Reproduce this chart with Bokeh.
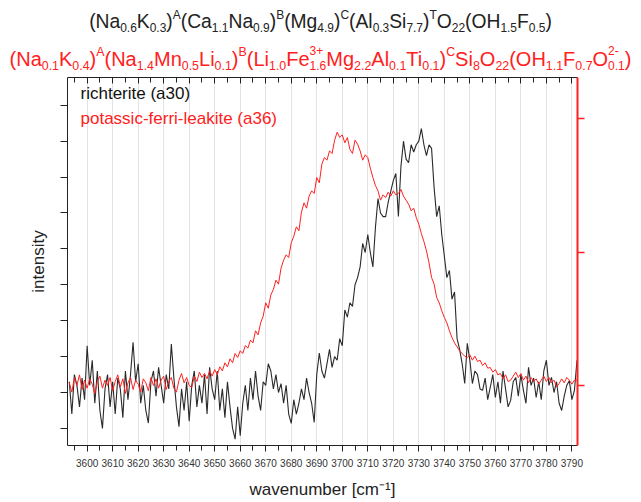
from bokeh.plotting import figure
from bokeh.models import (LinearAxis, Range1d, FixedTicker, Label, Div,
                          CustomJSTickFormatter)
from bokeh.layouts import column
from bokeh.embed import file_html
from bokeh.resources import INLINE

# ---------------- data ----------------
wavenumber = list(range(3593, 3793))

richterite_a30 = [
    0.3, -0.6, 0.5, 0.2, -0.4, 0.4, -0.2, 1.3, 0.2, 0.9,
    -0.3, 0.6, -0.5, -1.0, 0.1, 0.5, -0.4, 0.3, -0.6, 0.4,
    0.1, -0.7, 0.6, -0.2, 0.5, 1.4, 0.3, 0.8, -0.3, 0.2,
    -0.5, -0.85, 0.3, 0.6, -0.1, 0.7, 0.2, -0.3, 0.5, 0.1,
    1.35, 0.4, -0.4, -0.95, 0.1, -0.5, 0.3, -0.8, 0.2, 0.6,
    -0.4, 0.2, -0.3, 0.5, -0.6, 0.7, 0.1, -0.2, 0.6, -0.5,
    0.1, -0.7, 0.3, -0.4, -1.0, -1.3, -0.4, -1.2, -0.3, 0.2,
    -0.5, 0.4, -0.2, 0.6, -0.1, -0.5, 0.3, 0.2, 0.8, 0.6,
    0.1, 0.5, 0.0, 0.25, -0.3, 0.2, -0.6, -0.86, -0.2, -0.6,
    -0.3, 0.1, -0.2, 0.4, 0.0, -0.3, -0.83, 0.5, 1.1, 0.6,
    0.4, 0.8, 1.2, 0.7, 1.0, 0.9, 1.5, 1.3, 2.3, 2.1,
    2.5, 2.4, 3.0, 3.2, 3.5, 4.15, 3.9, 4.4, 3.9, 3.5,
    4.6, 5.4, 5.0, 4.9, 4.9, 5.3, 5.6, 5.9, 6.1, 4.9,
    6.3, 7.0, 6.5, 6.4, 6.9, 6.7, 6.9, 7.0, 7.35, 6.9,
    6.6, 6.9, 6.8, 5.7, 4.9, 5.2, 4.4, 3.8, 3.2, 3.4,
    2.6, 2.8, 1.5, 1.2, 0.8, 0.25, 1.37, 0.9, 0.25, 0.6,
    0.5, 0.1, 0.06, 0.4, -0.2, 0.14, 0.5, -0.14, 0.3, -0.3,
    0.6, 0.1, -0.4, -0.22, 0.3, 0.42, -0.1, 0.5, 0.06, -0.3,
    0.7, 0.2, 0.4, -0.14, 0.3, -0.2, 0.6, 0.9, 0.2, 0.42,
    0.0, 0.3, -0.3, -0.5, -0.1, 0.2, 0.33, -0.2, 0.06, 0.9,
]

potassic_ferri_leakite_a36 = [
    0.02, -0.05, 0.06, 0.0, 0.08, -0.03, 0.04, -0.02, 0.05, 0.01,
    -0.06, 0.03, 0.07, -0.02, 0.04, 0.0, 0.06, -0.04, 0.03, 0.08,
    -0.01, 0.05, -0.06, 0.02, 0.06, -0.03, 0.04, 0.01, -0.05, 0.05,
    0.02, -0.04, 0.06, 0.0, 0.05, -0.02, 0.04, 0.07, -0.03, 0.03,
    0.06, -0.02, -0.05, 0.04, 0.09, 0.02, 0.06, 0.0, -0.015, 0.07,
    0.03, 0.1, 0.06, 0.09, 0.05, 0.11, 0.07, 0.12, 0.08, 0.14,
    0.11, 0.17, 0.14, 0.2, 0.17, 0.24, 0.21, 0.26, 0.24, 0.3,
    0.28, 0.34, 0.32, 0.41, 0.38, 0.47, 0.52, 0.62, 0.58, 0.68,
    0.72, 0.79, 0.76, 0.88, 0.94, 0.98, 0.96, 1.07, 1.12, 1.19,
    1.16, 1.3, 1.37, 1.33, 1.42, 1.46, 1.44, 1.56, 1.52, 1.66,
    1.71, 1.69, 1.76, 1.74, 1.84, 1.9, 1.86, 1.88, 1.82, 1.86,
    1.77, 1.74, 1.84, 1.81, 1.76, 1.69, 1.73, 1.71, 1.63, 1.56,
    1.5, 1.46, 1.39, 1.43, 1.41, 1.45, 1.42, 1.46, 1.43, 1.44,
    1.47, 1.42, 1.39, 1.36, 1.31, 1.33, 1.26, 1.21, 1.14, 1.08,
    1.01, 0.92, 0.81, 0.76, 0.66, 0.62, 0.56, 0.51, 0.47, 0.41,
    0.36, 0.32, 0.29, 0.26, 0.24, 0.22, 0.21, 0.23, 0.19, 0.22,
    0.18, 0.19, 0.15, 0.17, 0.13, 0.135, 0.1, 0.12, 0.08, 0.09,
    0.05, 0.08, 0.03, 0.04, 0.07, 0.1, 0.06, 0.09, 0.04, 0.07,
    0.02, 0.06, 0.03, 0.05, 0.01, 0.04, 0.07, 0.03, 0.06, 0.02,
    0.04, -0.01, 0.015, 0.05, 0.02, 0.06, 0.04, 0.01, 0.04, 0.04,
]

x_major_ticks = list(range(3600, 3791, 10))
x_minor_ticks = list(range(3595, 3792, 10))
left_ticks = list(range(-1, 9))
right_ticks = [0, 1, 2]

legend_black = "richterite (a30)"
legend_red = "potassic-ferri-leakite (a36)"

FONT = "Liberation Sans"
RED = "#ff2020"

# ---------------- figure ----------------
p = figure(width=603, height=430, output_backend="svg", toolbar_location=None,
           x_range=Range1d(3592.3, 3792.2), y_range=Range1d(-1.476, 8.774),
           min_border_left=67, min_border_right=26, min_border_top=5,
           min_border_bottom=57, background_fill_color="white",
           border_fill_color="white")
p.outline_line_color = None
p.extra_y_ranges = {"right": Range1d(-0.45, 2.31)}

blank = CustomJSTickFormatter(code="return ''")

# bottom axis
xa = p.xaxis[0]
xa.ticker = FixedTicker(ticks=x_major_ticks, minor_ticks=x_minor_ticks)
xa.axis_label = "wavenumber [cm⁻¹]"
xa.axis_label_text_font = FONT
xa.axis_label_text_font_size = "17px"
xa.axis_label_text_font_style = "normal"
xa.axis_label_text_color = "#222222"
xa.axis_label_standoff = 10
xa.major_label_text_font = FONT
xa.major_label_text_font_size = "10px"
xa.major_label_text_color = "#333333"
xa.major_label_standoff = 7
xa.major_tick_in = 0
xa.major_tick_out = 6
xa.minor_tick_in = 0
xa.minor_tick_out = 5
xa.axis_line_color = "#222222"
xa.major_tick_line_color = "#222222"
xa.minor_tick_line_color = "#222222"

# left axis
ya = p.yaxis[0]
ya.ticker = FixedTicker(ticks=left_ticks, minor_ticks=[])
ya.formatter = blank
ya.axis_label = "intensity"
ya.axis_label_text_font = FONT
ya.axis_label_text_font_size = "17px"
ya.axis_label_text_font_style = "normal"
ya.axis_label_text_color = "#222222"
ya.axis_label_standoff = 13
ya.major_tick_in = 0
ya.major_tick_out = 7
ya.axis_line_color = "#222222"
ya.major_tick_line_color = "#222222"

# top axis (ticks inward, no labels)
ta = LinearAxis(ticker=FixedTicker(ticks=x_major_ticks, minor_ticks=x_minor_ticks),
                formatter=blank, major_tick_in=6, major_tick_out=0,
                minor_tick_in=5, minor_tick_out=0,
                axis_line_color="#222222", major_tick_line_color="#222222",
                minor_tick_line_color="#222222", major_label_text_font_size="1px",
                major_label_standoff=0)
p.add_layout(ta, "above")

# right red axis
ra = LinearAxis(y_range_name="right", ticker=FixedTicker(ticks=right_ticks, minor_ticks=[]),
                formatter=blank, major_tick_in=0, major_tick_out=7,
                axis_line_color=RED, axis_line_width=2,
                major_tick_line_color=RED, major_tick_line_width=1.5,
                major_label_text_font_size="1px", major_label_standoff=0)
p.add_layout(ra, "right")

# grid
p.xgrid.ticker = FixedTicker(ticks=x_major_ticks)
p.xgrid.grid_line_color = "#e3e3e3"
p.xgrid.grid_line_width = 1
p.ygrid.visible = False

# data
p.line(wavenumber, richterite_a30, line_color="#2a2a2a", line_width=1.1)
p.line(wavenumber, potassic_ferri_leakite_a36, line_color=RED, line_width=1.0,
       y_range_name="right")

# legend texts
p.add_layout(Label(x=3597.4, y=8.32, text=legend_black, text_font=FONT,
                   text_font_size="17px", text_color="#111111",
                   text_baseline="alphabetic"))
p.add_layout(Label(x=3597.4, y=7.63, text=legend_red, text_font=FONT,
                   text_font_size="17px", text_color=RED,
                   text_baseline="alphabetic"))

# ---------------- titles ----------------
title_html = """
<style>
.t {font-family:'Liberation Sans',Arial,sans-serif; width:641px; text-align:center; white-space:nowrap;}
.t sub {font-size:62%; vertical-align:-0.35em; line-height:0;}
.t sup {font-size:62%; vertical-align:0.75em; line-height:0;}
.t .st {display:inline-block; font-size:60%; line-height:1.25; vertical-align:-0.37em; text-align:left;}
.t .st span {display:block;}
</style>
<div class="t">
<div style="height:44px; line-height:44px; font-size:19.3px; color:#222222;">(Na<sub>0.6</sub>K<sub>0.3</sub>)<sup>A</sup>(Ca<sub>1.1</sub>Na<sub>0.9</sub>)<sup>B</sup>(Mg<sub>4.9</sub>)<sup>C</sup>(Al<sub>0.3</sub>Si<sub>7.7</sub>)<sup>T</sup>O<sub>22</sub>(OH<sub>1.5</sub>F<sub>0.5</sub>)</div>
<div style="height:22px; line-height:22px; font-size:20px; color:#ff2020;">(Na<sub>0.1</sub>K<sub>0.4</sub>)<sup>A</sup>(Na<sub>1.4</sub>Mn<sub>0.5</sub>Li<sub>0.1</sub>)<sup>B</sup>(Li<sub>1.0</sub>Fe<span class="st"><span>3+</span><span>1.6</span></span>Mg<sub>2.2</sub>Al<sub>0.1</sub>Ti<sub>0.1</sub>)<sup>C</sup>Si<sub>8</sub>O<sub>22</sub>(OH<sub>1.1</sub>F<sub>0.7</sub>O<span class="st"><span>2-</span><span>0.1</span></span>)</div>
</div>
"""
title_div = Div(text=title_html, width=641, height=72, margin=(0, 0, 0, 0))

layout = column(title_div, p, spacing=0)

with open("out.html", "w") as f:
    f.write(file_html(layout, INLINE))
